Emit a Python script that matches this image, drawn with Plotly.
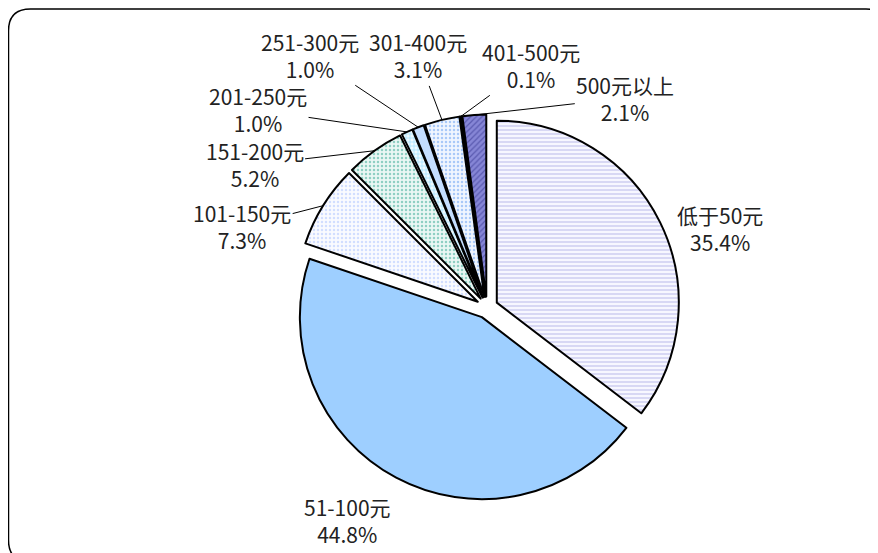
import math
import plotly.graph_objects as go

# ---- data ----
categories = ["低于50元", "51-100元", "101-150元", "151-200元", "201-250元",
              "251-300元", "301-400元", "401-500元", "500元以上"]
shares = [35.4, 44.8, 7.3, 5.2, 1.0, 1.0, 3.1, 0.1, 2.1]

# ---- styles ----
slice_colors = ["#ECECFB", "#9ECFFF", "#F1F5FF", "#CFEBE6", "#D6F3FF",
                "#C4DEFF", "#DCE8FF", "#B8C8F0", "#8080D0"]
pattern_shapes = ["-", "", ".", ".", "+", "", ".", "", "/"]
pattern_fg = ["#C4C4EE", "#9ECFFF", "#D2DEFF", "#8FCFC3", "#9ADDFF",
              "#C4DEFF", "#A9C9F8", "#B8C8F0", "#5A5AB0"]
pattern_bg = ["#F7F7FF", "#9ECFFF", "#FAFBFF", "#EAF7F4", "#EEFAFF",
              "#C4DEFF", "#F0F6FF", "#B8C8F0", "#8686D6"]

# label placement: pixel offset from the slice's outer-arc midpoint to the label centre
label_offsets = [(60, 6), (-49, 43), (-81, 21), (-120, 14), (-149, -22),
                 (-108, -72), (-24, -64), (70, -51), (151, -17)]
leader_line = [False, False, True, True, True, True, True, True, True]

# page body margin (8px) leaves an 870x545 visible area in the 878x553 window
W, H = 870, 545
PULL = 0.06
DOM_X = [0.32883, 0.77232]
DOM_Y = [0.09648, 0.80444]
FONT = "Noto Sans CJK SC"
FONT_SIZE = 21

fig = go.Figure(go.Pie(
    labels=categories,
    values=shares,
    sort=False,
    direction="clockwise",
    rotation=0,
    pull=[PULL] * len(shares),
    marker=dict(
        colors=slice_colors,
        line=dict(color="#000000", width=2),
        pattern=dict(shape=pattern_shapes, fgcolor=pattern_fg, bgcolor=pattern_bg,
                     size=4, solidity=0.3, fillmode="replace"),
    ),
    textinfo="none",
    domain=dict(x=DOM_X, y=DOM_Y),
    showlegend=False,
    hoverinfo="label+percent",
))

# pie geometry as plotly lays it out (radius shrinks to leave room for the pull)
box_w = (DOM_X[1] - DOM_X[0]) * W
box_h = (DOM_Y[1] - DOM_Y[0]) * H
R = min(box_w, box_h) / (2 + 2 * PULL)
cx = W * (DOM_X[0] + DOM_X[1]) / 2
cy = H * (1 - (DOM_Y[0] + DOM_Y[1]) / 2)

total = sum(shares)
annotations = []
cum = 0.0
for name, v, (ox, oy), lead in zip(categories, shares, label_offsets, leader_line):
    mid = 2 * math.pi * (cum + v / 2) / total
    cum += v
    rr = R * (1 + PULL)
    axp = cx + rr * math.sin(mid)
    ayp = cy - rr * math.cos(mid)
    annotations.append(dict(
        x=axp / W, y=1 - ayp / H, xref="paper", yref="paper",
        text=f"{name}<br>{v / total * 100:.1f}%",
        showarrow=True, ax=ox, ay=oy, axref="pixel", ayref="pixel",
        arrowhead=0, arrowwidth=1,
        arrowcolor="#000000" if lead else "rgba(0,0,0,0)",
        standoff=0, startstandoff=0,
        font=dict(family=FONT, size=FONT_SIZE, color="#222222"),
        align="center",
    ))

# rounded chart-area frame (extends past right/bottom edges like the reference)
def px(x):
    return x / W

def py(y):
    return 1 - y / H

l, t, r, b, rad = 0.5, 1.0, 880.0, 554.0, 22.0
path = (f"M {px(l)},{py(t+rad)} Q {px(l)},{py(t)} {px(l+rad)},{py(t)} "
        f"L {px(r-rad)},{py(t)} Q {px(r)},{py(t)} {px(r)},{py(t+rad)} "
        f"L {px(r)},{py(b-rad)} Q {px(r)},{py(b)} {px(r-rad)},{py(b)} "
        f"L {px(l+rad)},{py(b)} Q {px(l)},{py(b)} {px(l)},{py(b-rad)} Z")

fig.update_layout(
    width=W, height=H,
    margin=dict(l=0, r=0, t=0, b=0, autoexpand=False),
    paper_bgcolor="white",
    plot_bgcolor="white",
    font=dict(family=FONT, color="#222222"),
    annotations=annotations,
    shapes=[dict(type="path", xref="paper", yref="paper", path=path,
                 line=dict(color="#000000", width=1.5), layer="below")],
)

fig.write_html("out.html")
